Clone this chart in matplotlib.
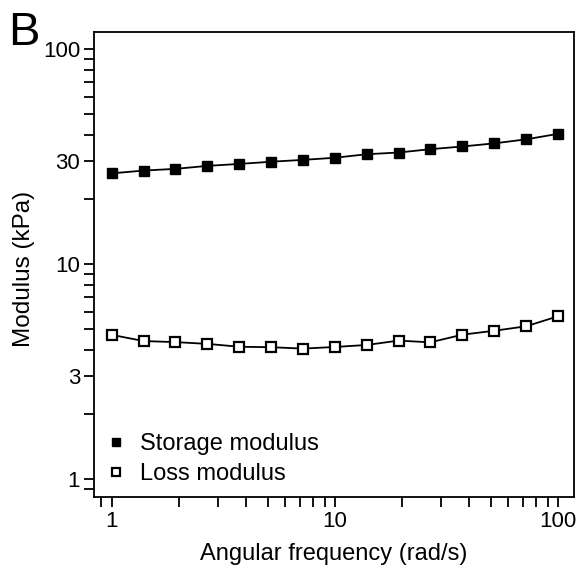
import matplotlib
matplotlib.use("Agg")
import matplotlib.pyplot as plt
from matplotlib.ticker import FixedLocator, FixedFormatter

plt.rcParams['font.family'] = ['Liberation Sans', 'DejaVu Sans']

freq = [1.0, 1.39, 1.93, 2.68, 3.73, 5.18, 7.20, 10.0, 13.9, 19.3, 26.8, 37.3, 51.8, 72.0, 100.0]
storage = [26.4, 27.2, 27.7, 28.6, 29.2, 29.9, 30.5, 31.2, 32.4, 33.0, 34.2, 35.2, 36.4, 38.0, 40.3]
loss = [4.68, 4.38, 4.33, 4.25, 4.12, 4.10, 4.04, 4.11, 4.20, 4.40, 4.32, 4.69, 4.89, 5.13, 5.71]

y_major = [1, 3, 10, 30, 100]
y_labels = ["1", "3", "10", "30", "100"]
x_major = [1, 10, 100]
x_labels = ["1", "10", "100"]

fig = plt.figure(figsize=(5.82, 5.75), dpi=100)
ax = fig.add_axes([94/582, 1-497/575, (574-94)/582, (497-32)/575])

ax.plot(freq, storage, color='black', lw=1.3, marker='s', ms=7.6,
        mfc='black', mec='black', label='Storage modulus')
ax.plot(freq, loss, color='black', lw=1.3, marker='s', ms=7.6,
        mfc='white', mec='black', mew=1.6, label='Loss modulus')

ax.set_xscale('log')
ax.set_yscale('log')
ax.set_xlim(0.833, 118)
ax.set_ylim(0.824, 120)


def label_for(v, majors, labels):
    for m, l in zip(majors, labels):
        if abs(v - m) < 1e-9:
            return l
    return ""


all_y = [v * 10**e for e in range(-1, 3) for v in range(1, 10)]
all_y = [v for v in all_y if 0.824 <= v <= 120]
all_x = [v * 10**e for e in range(-1, 3) for v in range(1, 10)]
all_x = [v for v in all_x if 0.833 <= v <= 118]
ax.yaxis.set_major_locator(FixedLocator(all_y))
ax.yaxis.set_major_formatter(FixedFormatter([label_for(v, y_major, y_labels) for v in all_y]))
ax.yaxis.set_minor_locator(FixedLocator([]))
ax.xaxis.set_major_locator(FixedLocator(all_x))
ax.xaxis.set_major_formatter(FixedFormatter([label_for(v, x_major, x_labels) for v in all_x]))
ax.xaxis.set_minor_locator(FixedLocator([]))

ax.tick_params(axis='both', which='both', direction='out', length=7, width=1.3,
               labelsize=16, top=False, right=False, pad=3)
for s in ax.spines.values():
    s.set_linewidth(1.3)

ax.set_xlabel('Angular frequency (rad/s)', fontsize=17, labelpad=8)
ax.set_ylabel('Modulus (kPa)', fontsize=17.5)
ax.yaxis.set_label_coords(-0.122, 0.49)

leg = ax.legend(loc='lower left', frameon=False, fontsize=17, handlelength=0.7,
                handletextpad=0.65, markerscale=0.8, borderaxespad=0.3,
                labelspacing=0.35, bbox_to_anchor=(-0.005, -0.01))
for h in leg.get_lines():
    h.set_linestyle('none')

fig.text(8/582, 1-45/575, 'B', fontsize=34, ha='left', va='baseline')

fig.savefig('out.png', dpi=100)
